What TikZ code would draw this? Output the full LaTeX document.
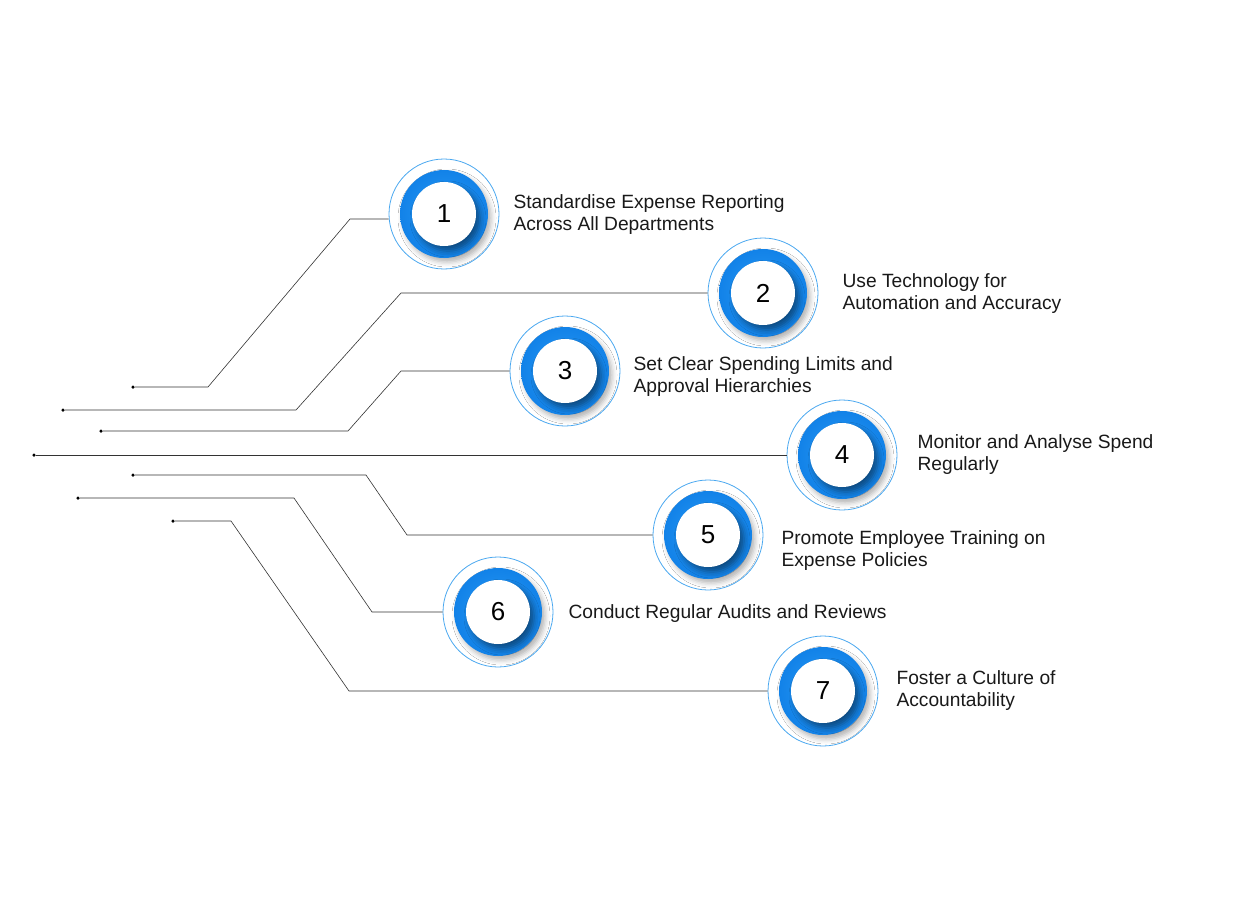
\documentclass[tikz,border=0pt]{standalone}
\usepackage{fontspec}
\setmainfont{Liberation Sans}
\usetikzlibrary{shadows.blur}
\definecolor{bl}{HTML}{2A9BF5}
\definecolor{bld}{HTML}{1282E8}
\definecolor{ring}{HTML}{4AA8F0}
\begin{document}
\begin{tikzpicture}[x=1pt,y=-1pt,
  lbl/.style={anchor=west,align=left,font=\fontsize{19.2}{22}\selectfont,text=black!90},
  conn/.style={draw=black!80,line width=0.6pt},
  dotm/.style={circle,fill=black,inner sep=0pt,minimum size=3.5pt}]
\useasboundingbox (0,0) rectangle (1260,904);
\newcommand\badge[3]{%
  \node[circle,draw=ring,line width=0.8pt,minimum size=110pt,inner sep=0pt,fill=white] (#1) at (#2) {};
  \node[circle,inner sep=0pt,minimum size=88pt,inner color=bl,outer color=bld,
    blur shadow={shadow xshift=3pt,shadow yshift=-4pt,shadow blur radius=5pt,shadow opacity=30}] at (#2) {};
  \node[circle,fill=white,inner sep=0pt,minimum size=64pt,
    blur shadow={shadow xshift=4pt,shadow yshift=-5pt,shadow blur radius=6pt,shadow opacity=45},
    font=\fontsize{26}{30}\selectfont] at (#2) {#3};}
\badge{c1}{444,214}{1}
\badge{c2}{763,293}{2}
\badge{c3}{565,371}{3}
\badge{c4}{842,455}{4}
\badge{c5}{708,535}{5}
\badge{c6}{498,612}{6}
\badge{c7}{823,691}{7}
\node[dotm] (d1) at (133,387) {};
\node[dotm] (d2) at (63,410) {};
\node[dotm] (d3) at (101,431) {};
\node[dotm] (d4) at (34,455) {};
\node[dotm] (d5) at (133,475) {};
\node[dotm] (d6) at (78,498) {};
\node[dotm] (d7) at (173,521) {};
\draw[conn] (d1) -- (208,387) -- (350,219) -- (c1.west |- 0,219);
\draw[conn] (d2) -- (296,410) -- (401,293) -- (c2.west);
\draw[conn] (d3) -- (348,431) -- (401,371) -- (c3.west);
\draw[conn] (d4) -- (c4.west);
\draw[conn] (d5) -- (366,475) -- (407,535) -- (c5.west);
\draw[conn] (d6) -- (294,498) -- (372,612) -- (c6.west);
\draw[conn] (d7) -- (231,521) -- (349,691) -- (c7.west);
\node[lbl] at (510,215) {Standardise Expense Reporting\\Across All Departments};
\node[lbl] at (839,294) {Use Technology for\\Automation and Accuracy};
\node[lbl] at (630,377) {Set Clear Spending Limits and\\Approval Hierarchies};
\node[lbl] at (914,455) {Monitor and Analyse Spend\\Regularly};
\node[lbl] at (778,551) {Promote Employee Training on\\Expense Policies};
\node[lbl] at (565,614) {Conduct Regular Audits and Reviews};
\node[lbl] at (893,691) {Foster a Culture of\\Accountability};
\end{tikzpicture}
\end{document}
